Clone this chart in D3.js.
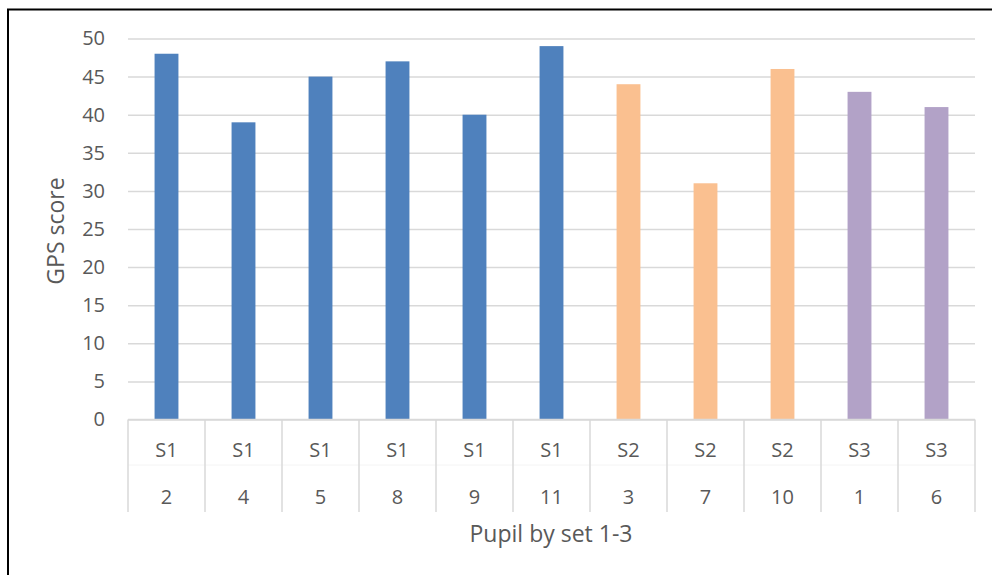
<!DOCTYPE html>
<html>
<head>
<meta charset="utf-8">
<script src="https://cdn.jsdelivr.net/npm/d3@7"></script>
<style>
  body { margin: 0; background: #fff; }
  text { font-family: "Open Sans", sans-serif; fill: #595959; }
</style>
</head>
<body>
<div id="chart"></div>
<script>
/* GPS score by pupil, grouped by set */

const sets = ["S1", "S1", "S1", "S1", "S1", "S1", "S2", "S2", "S2", "S3", "S3"];
const pupils = ["2", "4", "5", "8", "9", "11", "3", "7", "10", "1", "6"];
const scores = [48, 39, 45, 47, 40, 49, 44, 31, 46, 43, 41];
const yTicks = [0, 5, 10, 15, 20, 25, 30, 35, 40, 45, 50];
const setColors = { S1: "#4f81bd", S2: "#fac090", S3: "#b2a2c7" };

const data = scores.map((s, i) => ({ key: i, set: sets[i], pupil: pupils[i], score: s }));

const width = 992,
      height = 575,
      margin = ({ top: 38.5, right: 17, bottom: 155.5, left: 128 });

let svg = d3.select("#chart")
    .append("svg")
    .attr("width", width)
    .attr("height", height);

// outer frame (only top/left edges visible in the picture)
svg.append("rect")
    .attr("x", 8).attr("y", 9.5)
    .attr("width", 1000).attr("height", 600)
    .attr("fill", "none")
    .attr("stroke", "#000")
    .attr("stroke-width", 2);

let x = d3.scaleBand()
    .domain(data.map(d => d.key))
    .range([margin.left, width - margin.right])
    .paddingInner(0.69)
    .paddingOuter(0.345);

let band = d3.scaleBand()
    .domain(data.map(d => d.key))
    .range([margin.left, width - margin.right]);

let y = d3.scaleLinear()
    .domain([0, 50])
    .range([height - margin.bottom, margin.top]);

// gridlines + y labels
const yAxis = g => g
    .attr("transform", `translate(${margin.left}, 0)`)
    .call(d3.axisLeft(y).tickValues(yTicks).tickSize(-(width - margin.right - margin.left)).tickPadding(23))
    .call(g => g.select(".domain").remove())
    .call(g => g.selectAll(".tick line").attr("stroke", "#d9d9d9").attr("stroke-width", 1.5))
    .call(g => g.selectAll(".tick text").attr("font-size", 20).attr("fill", "#595959")
        .attr("font-family", "Open Sans"));

svg.append("g").call(yAxis);

// bars
svg.selectAll(".bar")
    .data(data)
    .join("rect")
    .attr("class", "bar")
    .attr("fill", d => setColors[d.set])
    .attr("x", d => x(d.key))
    .attr("width", x.bandwidth())
    .attr("y", d => y(d.score))
    .attr("height", d => y(0) - y(d.score));

// category axis: two label rows with separators
const y0 = y(0), axisBottom = 512;
let cat = svg.append("g").attr("class", "cat-axis");

cat.append("line")
    .attr("x1", margin.left).attr("x2", width - margin.right)
    .attr("y1", 465).attr("y2", 465)
    .attr("stroke", "#f4f4f4").attr("stroke-width", 1);

cat.append("line")
    .attr("x1", margin.left).attr("x2", width - margin.right)
    .attr("y1", y0).attr("y2", y0)
    .attr("stroke", "#d9d9d9").attr("stroke-width", 1.5);

const bounds = band.domain().map(k => band(k)).concat([band.range()[1]]);
cat.selectAll(".sep")
    .data(bounds)
    .join("line")
    .attr("class", "sep")
    .attr("x1", d => d).attr("x2", d => d)
    .attr("y1", y0).attr("y2", axisBottom)
    .attr("stroke", "#d9d9d9").attr("stroke-width", 1.5);

cat.selectAll(".set-label")
    .data(data)
    .join("text")
    .attr("class", "set-label")
    .attr("x", d => band(d.key) + band.bandwidth() / 2)
    .attr("y", 457)
    .attr("text-anchor", "middle")
    .attr("font-size", 20)
    .text(d => d.set);

cat.selectAll(".pupil-label")
    .data(data)
    .join("text")
    .attr("class", "pupil-label")
    .attr("x", d => band(d.key) + band.bandwidth() / 2)
    .attr("y", 504)
    .attr("text-anchor", "middle")
    .attr("font-size", 20)
    .text(d => d.pupil);

// axis titles
svg.append("text")
    .attr("transform", `translate(64, 231) rotate(-90)`)
    .attr("text-anchor", "middle")
    .attr("font-size", 23)
    .text("GPS score");

svg.append("text")
    .attr("x", 551)
    .attr("y", 542)
    .attr("text-anchor", "middle")
    .attr("font-size", 23)
    .text("Pupil by set 1-3");
</script>
</body>
</html>
